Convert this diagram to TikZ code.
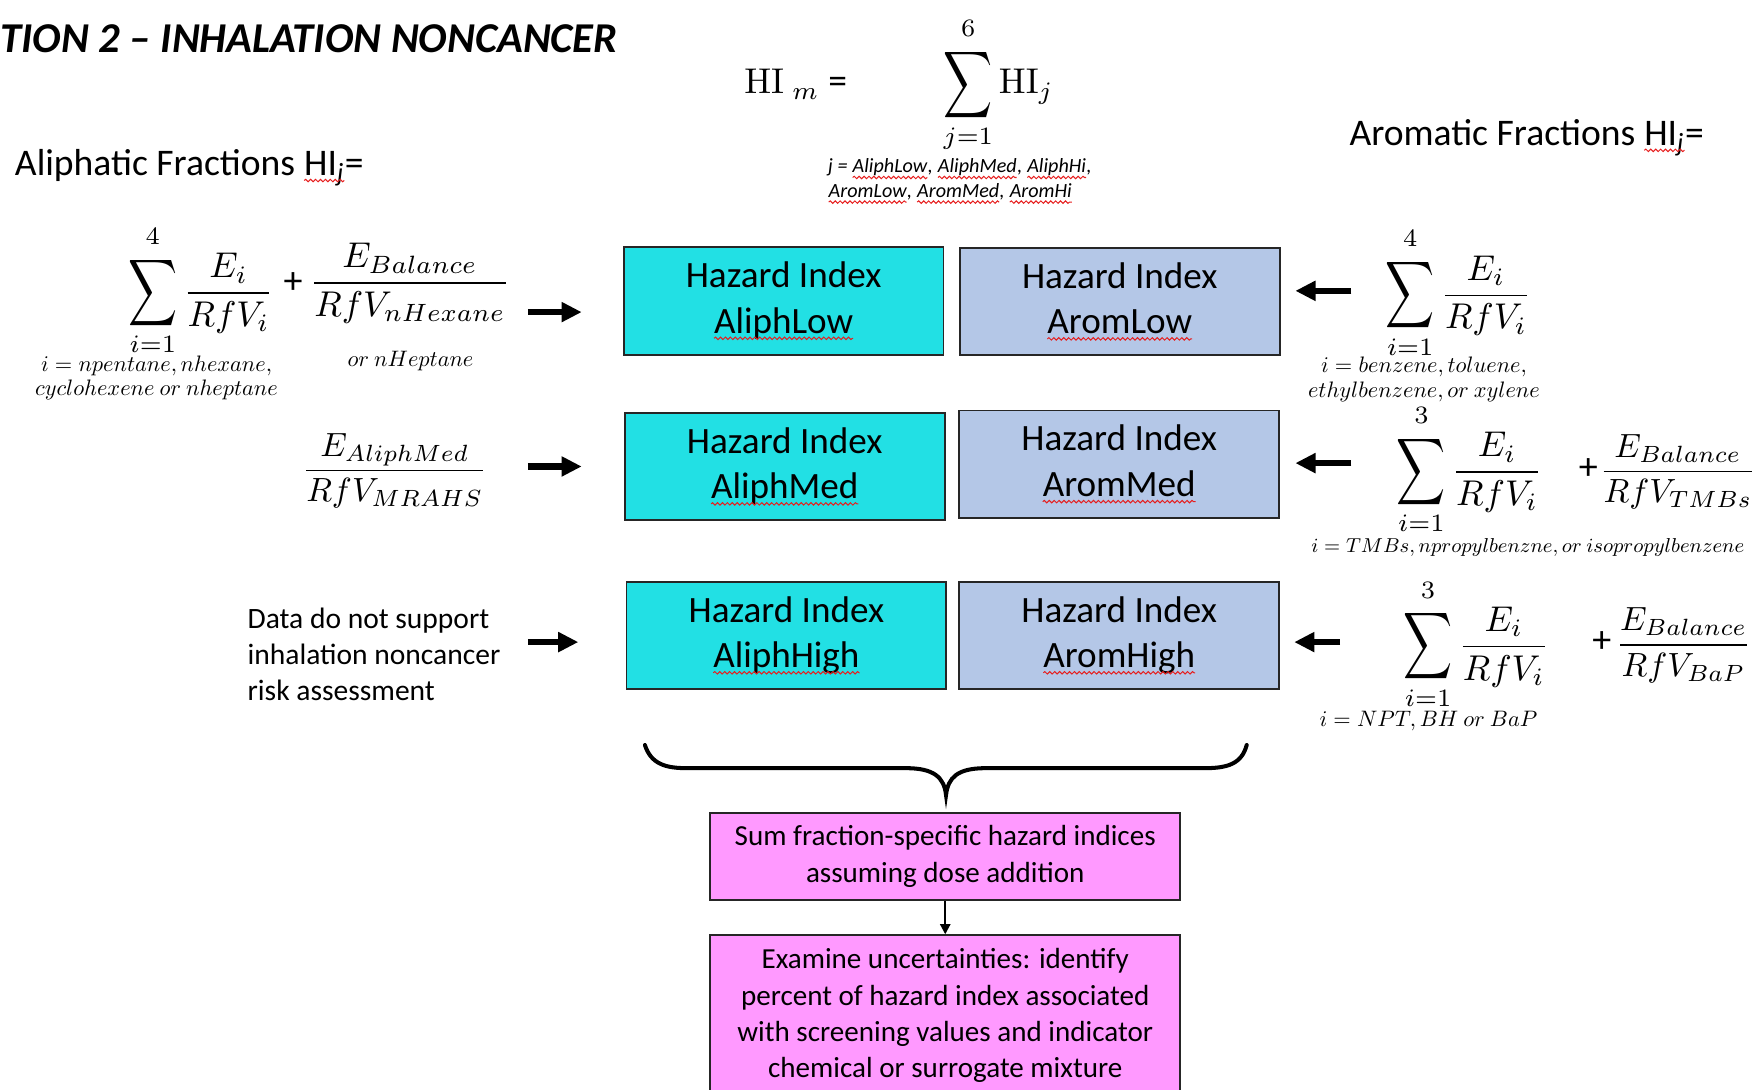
\documentclass[tikz,border=0pt]{standalone}
\usepackage[no-math]{fontspec}
\setmainfont{Carlito}
\usepackage{amsmath}
\usetikzlibrary{arrows.meta,decorations.pathmorphing}
\definecolor{cyanc}{RGB}{34,224,228}
\definecolor{bluec}{RGB}{180,199,231}
\definecolor{pinkc}{RGB}{255,153,255}
\definecolor{spellred}{RGB}{230,30,30}
\newcommand\bigf[2][1.6]{\scalebox{#1}{\fontsize{10}{12}\selectfont$\displaystyle #2$}}
\newcommand\bsum{\mathop{\vcenter{\hbox{\scalebox{0.95}[1.3]{$\displaystyle\sum$}}}}\limits}
\newcommand\uplim[1]{\rule[-2pt]{0pt}{2pt}#1}
\tikzset{
  squig/.style={spellred, line width=0.45pt, decorate,
    decoration={snake, amplitude=0.55pt, segment length=2.2pt}},
  hibox/.style={draw=black!85, line width=0.8pt, minimum width=143pt,
    minimum height=48pt, align=center, inner sep=0pt,
    font=\fontsize{16.6}{20.5}\selectfont},
  aliph/.style={hibox, fill=cyanc},
  arom/.style={hibox, fill=bluec},
  pinkbox/.style={draw=black!85, line width=0.8pt, fill=pinkc, align=center,
    minimum width=210pt, inner sep=0pt, font=\fontsize{13}{16.2}\selectfont},
  fat/.style={line width=2.8pt, -{Triangle[length=9pt,width=8.5pt]}},
  thinarrow/.style={line width=0.9pt, -{Triangle[length=4.5pt,width=4.5pt]}},
  formula/.style={inner sep=0pt, anchor=base},
  sumformula/.style={inner sep=0pt, anchor=base east},
  annot/.style={inner sep=0pt, align=center, font=\fontsize{10}{11}\selectfont},
  hdr/.style={inner sep=0pt, anchor=base west, font=\fontsize{16.8}{20}\selectfont},
  plussign/.style={inner sep=0pt, font=\fontsize{17}{20}\selectfont},
  bracestyle/.style={line width=1.8pt, line cap=round},
}
\newcommand\spell[1]{\tikz[baseline=(w.base)]{\node[draw=none,fill=none,inner sep=0pt,outer sep=0pt,minimum width=0pt,minimum height=0pt,anchor=base,rectangle](w){#1};\draw[squig]([yshift=-2.2pt]w.base west)--([yshift=-2.2pt]w.base east);}}
\begin{document}
\begin{tikzpicture}[x=0.5pt,y=-0.5pt]
\useasboundingbox (0,0) rectangle (1568,974);
\clip (0,0) rectangle (1568,974);

% title and headings
\node[anchor=base west, inner sep=0pt, font=\bfseries\itshape\fontsize{19}{23}\selectfont] (title) at (0,47) {TION 2 – INHALATION NONCANCER};
\node[hdr] (aliphlbl) at (13,157) {Aliphatic Fractions \spell{HI\textsubscript{\itshape j}}=};
\node[hdr] (aromlbl) at (1206,130) {Aromatic Fractions \spell{HI\textsubscript{\itshape j}}=};

% total hazard index
\node[anchor=base west, inner sep=0pt, font=\fontsize{16.8}{20}\selectfont] (him) at (665,84) {\bigf{\mathrm{HI}_{\;m}}\hspace{4pt}=};
\node[anchor=base west, inner sep=0pt] (sumhi) at (843,84) {\bigf{\bsum_{j=1}^{\uplim{6}}\mathrm{HI}_j}};
\node[anchor=west, inner sep=0pt, align=left, font=\itshape\fontsize{9}{11}\selectfont] (jlist) at (740,162) {j = \spell{AliphLow}, \spell{AliphMed}, \spell{AliphHi},\\\spell{AromLow}, \spell{AromMed}, \spell{AromHi}};

% left formulas
\node[sumformula] (L1a) at (245,270) {\bigf{\bsum_{i=1}^{\uplim{4}}\frac{E_i}{RfV_i}}};
\node[plussign] (L1p) at (262,253) {+};
\node[formula] (L1b) at (366.5,261) {\bigf{\frac{E_{Balance}}{RfV_{nHexane}}}};
\node[annot] (L1n) at (367,323) {$or\ nHeptane$};
\node[annot] (L1i) at (140,338) {$i = npentane,nhexane,$\\$cyclohexene\ or\ nheptane$};
\node[formula] (L2) at (353,428) {\bigf[1.5]{\frac{E_{AliphMed}}{RfV_{MRAHS}}}};
\node[anchor=west, inner sep=0pt, align=left, font=\fontsize{13.2}{16}\selectfont] (L3) at (221,585) {Data do not support\\inhalation noncancer\\risk assessment};

% right formulas
\node[sumformula] (R1) at (1369,272) {\bigf{\bsum_{i=1}^{\uplim{4}}\frac{E_i}{RfV_i}}};
\node[annot] (R1i) at (1273,339) {$i = benzene,toluene,$\\$ethylbenzene,or\ xylene$};
\node[sumformula] (R2a) at (1379,430) {\bigf{\bsum_{i=1}^{\uplim{3}}\frac{E_i}{RfV_i}}};
\node[plussign] (R2p) at (1420,419) {+};
\node[formula] (R2b) at (1500,429) {\bigf[1.5]{\frac{E_{Balance}}{RfV_{TMBs}}}};
\node[annot, font=\fontsize{9.4}{11}\selectfont] (R2i) at (1366,489) {$i = TMBs,npropylbenzne,or\ isopropylbenzene$};
\node[sumformula] (R3a) at (1385,586) {\bigf{\bsum_{i=1}^{\uplim{3}}\frac{E_i}{RfV_i}}};
\node[plussign] (R3p) at (1432,574) {+};
\node[formula] (R3b) at (1505,584) {\bigf[1.5]{\frac{E_{Balance}}{RfV_{BaP}}}};
\node[annot] (R3i) at (1277,645) {$i = NPT,BH\ or\ BaP$};

% hazard index boxes
\node[aliph] (AL) at (700.5,269) {Hazard Index\\\spell{AliphLow}};
\node[arom]  (RL) at (1001,269.5) {Hazard Index\\\spell{AromLow}};
\node[aliph] (AM) at (701.5,417) {Hazard Index\\\spell{AliphMed}};
\node[arom]  (RM) at (1000.5,415) {Hazard Index\\\spell{AromMed}};
\node[aliph] (AH) at (703,568) {Hazard Index\\\spell{AliphHigh}};
\node[arom]  (RH) at (1000.5,568) {Hazard Index\\\spell{AromHigh}};

% block arrows
\coordinate (a1s) at (472,279); \coordinate (a1e) at (520,279);
\coordinate (a2s) at (472,417); \coordinate (a2e) at (520,417);
\coordinate (a3s) at (472,574); \coordinate (a3e) at (517,574);
\coordinate (b1s) at (1208,260); \coordinate (b1e) at (1158,260);
\coordinate (b2s) at (1208,414); \coordinate (b2e) at (1158,414);
\coordinate (b3s) at (1198,574); \coordinate (b3e) at (1157,574);
\draw[fat] (a1s) -- (a1e);
\draw[fat] (a2s) -- (a2e);
\draw[fat] (a3s) -- (a3e);
\draw[fat] (b1s) -- (b1e);
\draw[fat] (b2s) -- (b2e);
\draw[fat] (b3s) -- (b3e);

% brace
\coordinate (brL) at (576.5,666);
\coordinate (brTip) at (845.7,710.7);
\coordinate (brR) at (1114.5,666);
\draw[bracestyle] (brL) .. controls (582,683) and (595,686.7) .. (614,686.7)
  -- (810,686.7) .. controls (835,686.7) and (844,695) .. (brTip)
  .. controls (847.5,695) and (856,686.7) .. (881,686.7)
  -- (1077,686.7) .. controls (1097,686.7) and (1110,683) .. (brR);

% summary boxes
\node[pinkbox, minimum height=39pt] (sum) at (845,765.5) {Sum fraction-specific hazard indices\\assuming dose addition};
\node[pinkbox, minimum height=72pt] (exam) at (845,908) {Examine uncertainties: identify\\percent of hazard index associated\\with screening values and indicator\\chemical or surrogate mixture};
\draw[thinarrow] (sum.south) -- (exam.north);
\end{tikzpicture}
\end{document}
